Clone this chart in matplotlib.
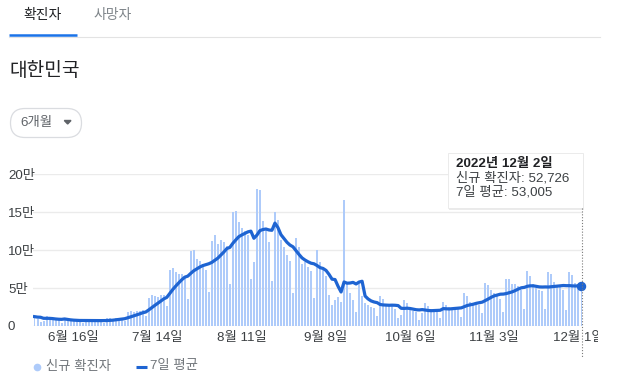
import numpy as np
import pandas as pd
import matplotlib
matplotlib.use('Agg')
import matplotlib.pyplot as plt
from matplotlib.patches import FancyBboxPatch, Rectangle, Polygon

plt.rcParams['font.family'] = ['Liberation Sans', 'Noto Sans CJK KR']

# ── Data: daily new cases, chart dates 2022-06-03 .. 2022-12-02 ───────────────
pre_days = [14000, 6500, 15800, 13400, 12500, 12000]          # May 28 - Jun 2 (for 7-day mean)
jun = [12000, 9800, 5000, 6200, 13300, 12100, 10000, 8400, 7400, 3800,
       9800, 9300, 7900, 7300, 6800, 6000, 3500, 9300, 9300, 7400,
       7200, 6800, 6200, 3400, 9900, 10400, 9500, 10700]
jul = [10400, 10000, 6200, 18100, 19300, 18500, 19300, 20300, 20400, 12700,
       37300, 40200, 39100, 38800, 40300, 41300, 26300, 73600, 76400, 71100,
       68600, 68500, 65400, 35800, 99300, 100300, 88300, 85300, 81900, 73600,
       44700]
aug = [111800, 119900, 107900, 112900, 110600, 105500, 55300, 149900, 151800, 137200,
       128700, 124500, 119600, 62100, 84100, 180800, 178600, 138800, 129400, 110800,
       59000, 150500, 139300, 113400, 104000, 94000, 85300, 43100, 115600, 104000,
       81600]
sep = [84100, 78000, 72100, 37500, 99800, 84600, 74000, 66000, 41300, 28200,
       33800, 38000, 32000, 166000, 55000, 43000, 34000, 19000, 56000, 39000,
       30000, 28000, 25000, 24000, 13000, 39000, 35000, 28000, 27000, 26000]
oct_ = [23000, 10000, 14000, 34000, 30000, 24000, 20000, 18000, 8000, 17000,
        30000, 26000, 22000, 21000, 19000, 10000, 32000, 28000, 25000, 24000,
        24000, 22000, 12000, 43000, 39000, 31000, 30000, 32000, 28000, 17000,
        57000]
nov = [54000, 47000, 43000, 39000, 36000, 18000, 62000, 62000, 55000, 55000,
       53000, 47000, 22000, 72000, 66000, 55000, 50000, 48000, 46000, 23000,
       71000, 69000, 58000, 54000, 51000, 47100, 21300, 71400, 66500, 57200]
dec = [54800, 52726]

tick_pos = [13, 41, 69, 97, 125, 153, 181]
tick_labels = ['6월 16일', '7월 14일', '8월 11일', '9월 8일', '10월 6일', '11월 3일', '12월 1일']
y_ticks = [0, 50000, 100000, 150000, 200000]
y_labels = ['0', '5만', '10만', '15만', '20만']

daily = jun + jul + aug + sep + oct_ + nov + dec
avg7 = pd.Series(pre_days + daily).rolling(7).mean().to_numpy()[len(pre_days):]
days = np.arange(len(daily))

BAR = '#aecbfa'
LINE = '#1e64d2'
W, H = 619, 381

fig = plt.figure(figsize=(W / 100, H / 100), dpi=100)
fig.patch.set_facecolor('white')

def box(l, t, r, b):
    return [l / W, 1 - b / H, (r - l) / W, (b - t) / H]

# ── Chart ─────────────────────────────────────────────────────────────────────
ax = fig.add_axes(box(33, 174, 583, 326))
ax.bar(days, daily, width=0.66, color=BAR, zorder=2)
ax.plot(days, avg7, color=LINE, lw=2.3, zorder=3, solid_joinstyle='round')
ax.plot(days[-1], avg7[-1], 'o', color=LINE, ms=5.8, zorder=4, clip_on=False)
ax.set_xlim(-0.5, len(daily) - 0.5)
ax.set_ylim(0, 200000)
for s in ax.spines.values():
    s.set_visible(False)
ax.set_yticks(y_ticks)
ax.set_yticklabels(y_labels)
ax.yaxis.grid(True, color='#ebebeb', lw=1, zorder=0)
ax.set_axisbelow(True)
ax.set_xticks(tick_pos)
ax.set_xticklabels(tick_labels)
ax.tick_params(axis='y', length=0, pad=18, labelsize=9.6, colors='#3c4043')
ax.tick_params(axis='x', length=0, pad=4, labelsize=9.6, colors='#3c4043')
for lab in ax.get_yticklabels():
    lab.set_horizontalalignment('left')

# ── Overlay in pixel coordinates ──────────────────────────────────────────────
ov = fig.add_axes([0, 0, 1, 1], zorder=5)
ov.set_xlim(0, W)
ov.set_ylim(H, 0)
ov.axis('off')
ov.patch.set_alpha(0)

# tabs
ov.text(43, 15, '확진자', ha='center', va='center', fontsize=10, color='#202124')
ov.text(113, 15, '사망자', ha='center', va='center', fontsize=10, color='#80868b')
ov.plot([9, 600], [37.3, 37.3], color='#e3e3e3', lw=0.8)
ov.plot([9, 77], [35.3, 35.3], color='#1a73e8', lw=1.8, solid_capstyle='butt')

# title
ov.text(9, 71, '대한민국', ha='left', va='center', fontsize=13.8, color='#202124')

# period button
ov.add_patch(FancyBboxPatch((10.5, 108.5), 71, 29, boxstyle='round,pad=0,rounding_size=14.5',
                            fc='white', ec='#dadce0', lw=0.9))
ov.text(20, 123, '6개월', ha='left', va='center', fontsize=9.6, color='#5f6368')
ov.add_patch(Polygon([(64.3, 120.5), (71, 120.5), (67.65, 124)], closed=True, color='#5f6368'))

# tooltip
ov.plot([581.7, 581.7], [208, 357], color='#7a7a7a', lw=0.8, ls=(0, (1, 1.6)))
ov.add_patch(Rectangle((449, 154), 135, 56, fc='#000000', alpha=0.08, ec='none'))
ov.add_patch(Rectangle((448, 152.5), 134.5, 55.5, fc='white', ec='#e8e8e8', lw=0.6))
ov.text(455.5, 164.5, '2022년 12월 2일', ha='left', va='center', fontsize=9.6,
        fontweight='bold', color='#202124')
ov.text(455.5, 178.5, '신규 확진자: 52,726', ha='left', va='center', fontsize=9.6, color='#3c4043')
ov.text(455.5, 192.5, '7일 평균: 53,005', ha='left', va='center', fontsize=9.6, color='#3c4043')

# clip of the last tick label
ov.add_patch(Rectangle((598, 328), 21, 22, fc='white', ec='none', zorder=10))

# legend
ov.plot([37], [366.5], 'o', color=BAR, ms=4.5)
ov.text(46, 366.5, '신규 확진자', ha='left', va='center', fontsize=9.6, color='#70757a')
ov.plot([136, 147], [366.5, 366.5], color=LINE, lw=2.2, solid_capstyle='butt')
ov.text(150, 366.5, '7일 평균', ha='left', va='center', fontsize=9.6, color='#70757a')

fig.savefig('out.png', dpi=100, facecolor='white')
